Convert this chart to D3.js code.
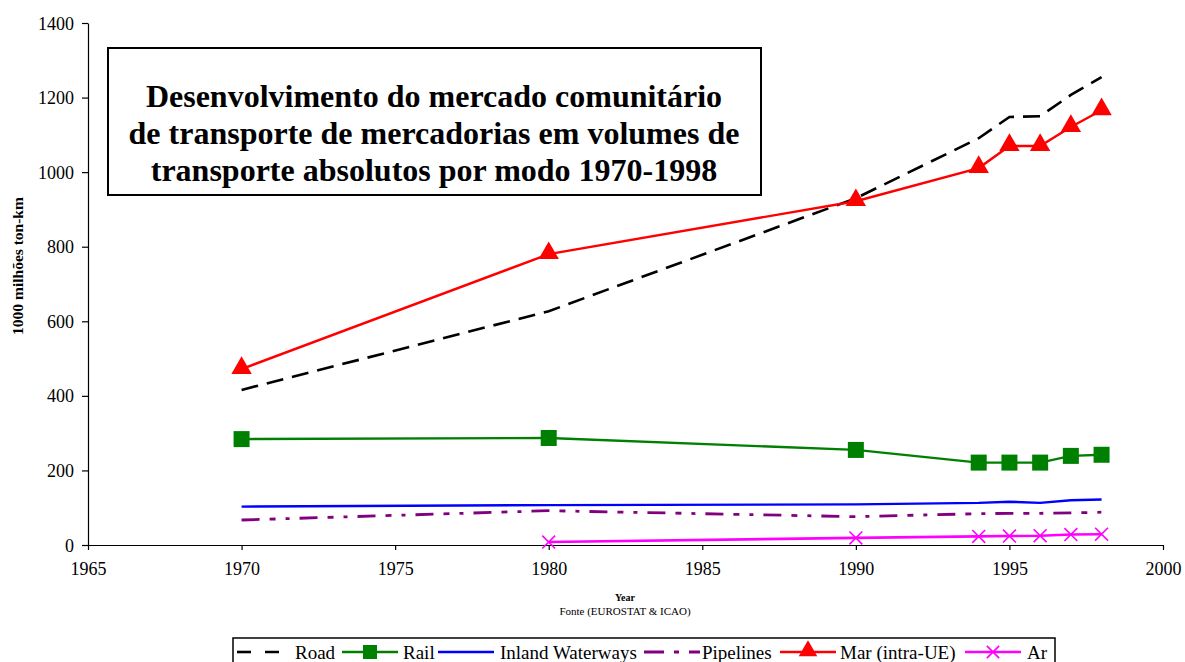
<!DOCTYPE html>
<html lang="pt">
<head>
<meta charset="UTF-8"/>
<title>Desenvolvimento do mercado comunitário de transporte de mercadorias</title>
<script src="https://d3js.org/d3.v7.min.js"></script>
<style>
    body { margin: 0; background: #fff; }
    svg { display: block; font-family: "Liberation Serif", "Times New Roman", serif; }
    .tick text { font-family: "Liberation Serif", "Times New Roman", serif; font-size: 18px; fill: #000; }
</style>
</head>
<body>
<div id="chart"></div>
<script>
    // Data (1000 milhões ton-km)
    const years = [1970, 1980, 1990, 1994, 1995, 1996, 1997, 1998];
    const road = [416, 627, 930, 1091, 1148, 1150, 1207, 1255];
    const rail = [284, 287, 255, 221, 221, 221, 239, 242];
    const inland = [103, 107, 109, 113, 116, 113, 120, 122];
    const pipelines = [67, 92, 76, 84, 85, 85, 86, 88];
    const mar = [472, 780, 922, 1011, 1070, 1070, 1121, 1166];
    const ar = [null, 8, 19, 23, 24, 25, 28, 29];

    const xTicks = [1965, 1970, 1975, 1980, 1985, 1990, 1995, 2000];
    const yTicks = [0, 200, 400, 600, 800, 1000, 1200, 1400];

    const series = [
        { name: "Road", values: road, color: "#000000", dash: "17,9", width: 2.6, marker: null },
        { name: "Rail", values: rail, color: "#008000", dash: null, width: 2.4, marker: "square" },
        { name: "Inland Waterways", values: inland, color: "#0000ff", dash: null, width: 2.4, marker: null },
        { name: "Pipelines", values: pipelines, color: "#800080", dash: "18,10,6,10,4,10", width: 2.8, marker: null },
        { name: "Mar (intra-UE)", values: mar, color: "#ff0000", dash: null, width: 2.4, marker: "triangle" },
        { name: "Ar", values: ar, color: "#ff00ff", dash: null, width: 2.6, marker: "x" }
    ];

    const w = 1185, h = 662;
    const x = d3.scaleLinear().domain([1965, 2000]).range([88, 1163]);
    const y = d3.scaleLinear().domain([0, 1400]).range([545, 23]);

    const svg = d3.select("#chart").append("svg")
        .attr("width", w)
        .attr("height", h);

    // Axes
    const xAxis = svg.append("g")
        .attr("transform", `translate(0, ${y(0)})`)
        .call(d3.axisBottom(x).tickValues(xTicks).tickFormat(d3.format("d")).tickSize(5).tickSizeOuter(0));
    const yAxis = svg.append("g")
        .attr("transform", `translate(${x(1965)}, 0)`)
        .call(d3.axisLeft(y).tickValues(yTicks).tickFormat(d3.format("d")).tickSize(6).tickSizeOuter(0));

    [xAxis, yAxis].forEach(a => {
        a.attr("font-family", null).attr("font-size", null);
        a.select(".domain").attr("stroke", "#000").attr("stroke-width", 1.2);
        a.selectAll(".tick line").attr("stroke", "#000").attr("stroke-width", 1.2);
    });
    xAxis.selectAll(".tick text").attr("y", 30).attr("dy", 0);
    yAxis.selectAll(".tick text").attr("x", -14).attr("dy", "0.34em");

    // Lines
    const line = d3.line()
        .defined(d => d[1] != null)
        .x(d => x(d[0]))
        .y(d => y(d[1]));

    series.forEach(s => {
        const pts = years.map((yr, i) => [yr, s.values[i]]);
        svg.append("path")
            .datum(pts)
            .attr("fill", "none")
            .attr("stroke", s.color)
            .attr("stroke-width", s.width)
            .attr("stroke-dasharray", s.dash)
            .attr("d", line);

        if (s.marker) {
            const valid = pts.filter(d => d[1] != null);
            if (s.marker === "square") {
                svg.selectAll(null).data(valid).enter().append("rect")
                    .attr("x", d => x(d[0]) - 8)
                    .attr("y", d => y(d[1]) - 8)
                    .attr("width", 16)
                    .attr("height", 16)
                    .attr("fill", s.color);
            } else if (s.marker === "triangle") {
                svg.selectAll(null).data(valid).enter().append("path")
                    .attr("transform", d => `translate(${x(d[0])}, ${y(d[1]) - 1})`)
                    .attr("d", d3.symbol(d3.symbolTriangle, 180)())
                    .attr("fill", s.color);
            } else if (s.marker === "x") {
                svg.selectAll(null).data(valid).enter().append("path")
                    .attr("transform", d => `translate(${x(d[0])}, ${y(d[1])})`)
                    .attr("d", d3.symbol(d3.symbolX, 110)())
                    .attr("fill", "none")
                    .attr("stroke", s.color)
                    .attr("stroke-width", 1.6);
            }
        }
    });

    // Title box
    svg.append("rect")
        .attr("x", 108).attr("y", 48)
        .attr("width", 653).attr("height", 147)
        .attr("fill", "#fff")
        .attr("stroke", "#000")
        .attr("stroke-width", 2);

    const titleLines = [
        "Desenvolvimento do mercado comunitário",
        "de transporte de mercadorias em volumes de",
        "transporte absolutos por modo 1970-1998"
    ];
    svg.append("text")
        .attr("x", 434)
        .attr("y", 107)
        .attr("text-anchor", "middle")
        .attr("font-size", "32px")
        .attr("font-weight", "bold")
        .selectAll("tspan")
        .data(titleLines)
        .enter().append("tspan")
        .attr("x", 434)
        .attr("dy", (d, i) => i === 0 ? 0 : 37)
        .text(d => d);

    // Axis titles
    svg.append("text")
        .attr("transform", "translate(23, 266) rotate(-90)")
        .attr("text-anchor", "middle")
        .attr("font-size", "15.5px")
        .attr("font-weight", "bold")
        .text("1000 milhões ton-km");

    svg.append("text")
        .attr("x", 625).attr("y", 601)
        .attr("text-anchor", "middle")
        .attr("font-size", "10px")
        .attr("font-weight", "bold")
        .text("Year");

    svg.append("text")
        .attr("x", 625).attr("y", 615)
        .attr("text-anchor", "middle")
        .attr("font-size", "11px")
        .text("Fonte (EUROSTAT & ICAO)");

    // Legend
    const legend = svg.append("g");
    legend.append("rect")
        .attr("x", 233).attr("y", 638)
        .attr("width", 822).attr("height", 30)
        .attr("fill", "#fff")
        .attr("stroke", "#000")
        .attr("stroke-width", 1.5);

    const legendX = [237, 342, 438, 644, 780, 965];
    const legendTextX = [295, 403, 500, 702, 840, 1027];
    const ly = 652;
    series.forEach((s, i) => {
        const x0 = legendX[i];
        legend.append("line")
            .attr("x1", x0).attr("x2", x0 + 56)
            .attr("y1", ly).attr("y2", ly)
            .attr("stroke", s.color)
            .attr("stroke-width", s.width)
            .attr("stroke-dasharray", s.name === "Road" ? "14,14" : (s.name === "Pipelines" ? "20,10,5,10" : null));
        const cx = x0 + 28;
        if (s.marker === "square") {
            legend.append("rect").attr("x", cx - 7).attr("y", ly - 7)
                .attr("width", 14).attr("height", 14).attr("fill", s.color);
        } else if (s.marker === "triangle") {
            legend.append("path").attr("transform", `translate(${cx}, ${ly - 1})`)
                .attr("d", d3.symbol(d3.symbolTriangle, 150)()).attr("fill", s.color);
        } else if (s.marker === "x") {
            legend.append("path").attr("transform", `translate(${cx}, ${ly})`)
                .attr("d", d3.symbol(d3.symbolX, 100)())
                .attr("fill", "none").attr("stroke", s.color).attr("stroke-width", 1.6);
        }
        legend.append("text")
            .attr("x", legendTextX[i]).attr("y", ly + 7)
            .attr("font-size", "19px")
            .text(s.name);
    });
</script>
</body>
</html>
